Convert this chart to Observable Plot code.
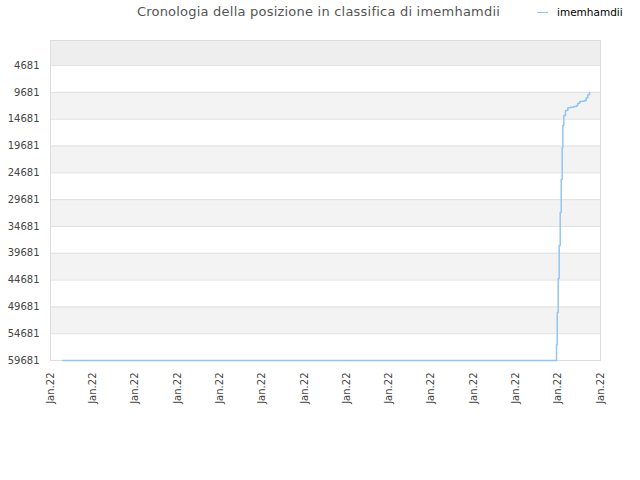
<!DOCTYPE html>
<html>
<head>
<meta charset="utf-8">
<script src="https://cdn.jsdelivr.net/npm/d3@7"></script>
<script src="https://cdn.jsdelivr.net/npm/@observablehq/plot@0.6"></script>
<style>
  html, body { margin: 0; padding: 0; background: #fff; }
  #wrap { position: relative; width: 640px; height: 480px; overflow: hidden; font-family: "DejaVu Sans", sans-serif; }
  #header { position: relative; height: 30px; }
  #title { position: absolute; left: 0; width: 637px; top: 4px; text-align: center; font-size: 13px; letter-spacing: 0.22px; color: #555; white-space: nowrap; }
  #legend { position: absolute; left: 537px; top: 6px; font-size: 10.5px; color: #000; white-space: nowrap; display: flex; align-items: center; }
  #legend .sw { display: inline-block; width: 11px; height: 0; border-top: 1.5px solid #92c5f5; margin-right: 9px; }
  #chart svg { display: block; }
</style>
</head>
<body>
<div id="wrap">
  <div id="header">
    <div id="title"></div>
    <div id="legend"><span class="sw"></span><span id="legendText"></span></div>
  </div>
  <div id="chart"></div>
</div>
<script>
const titleText = "Cronologia della posizione in classifica di imemhamdii";
const seriesName = "imemhamdii";

// x: timestamps (UTC), y: rank position
const times = [
  "2022-01-01T14:00Z", "2022-01-24T22:06Z", "2022-01-24T22:54Z", "2022-01-25T00:00Z",
  "2022-01-25T01:08Z", "2022-01-25T02:17Z", "2022-01-25T03:25Z", "2022-01-25T04:33Z",
  "2022-01-25T05:14Z", "2022-01-25T06:22Z", "2022-01-25T08:18Z", "2022-01-25T10:55Z",
  "2022-01-25T14:00Z", "2022-01-25T17:44Z", "2022-01-25T20:48Z", "2022-01-25T22:17Z",
  "2022-01-26T00:32Z", "2022-01-26T03:14Z", "2022-01-26T05:52Z", "2022-01-26T07:48Z",
  "2022-01-26T09:36Z", "2022-01-26T11:32Z"
];
const ranks = [
  59681, 56697, 50729, 44388,
  38233, 32079, 25924, 19956,
  15853, 13988, 13055, 12552,
  12440, 12309, 12123, 11694,
  11377, 11321, 11190, 10687,
  10127, 9681
];

const yTicks = [4681, 9681, 14681, 19681, 24681, 29681, 34681, 39681, 44681, 49681, 54681, 59681];
const xTickLabel = "Jan.22";
const xStart = "2022-01-01T00:00Z";
const xEnd = "2022-01-27T00:00Z";

document.getElementById("title").textContent = titleText;
document.getElementById("legendText").textContent = seriesName;

const data = times.map((t, i) => ({ date: new Date(t), rank: ranks[i] }));
const x0 = new Date(xStart), x1 = new Date(xEnd);
const xTicks = d3.utcDay.every(2).range(x0, new Date(+x1 + 1));

// alternating background bands between tick lines
const bounds = [0, ...yTicks];
const bands = [];
for (let i = 0; i < bounds.length - 1; i++) {
  if (i === 0) bands.push({ y1: bounds[i], y2: bounds[i + 1], fill: "#eeeeee" });
  else if (i % 2 === 0) bands.push({ y1: bounds[i], y2: bounds[i + 1], fill: "#f3f3f3" });
}

const plot = Plot.plot({
  width: 640,
  height: 450,
  marginTop: 10,
  marginBottom: 120,
  marginLeft: 50,
  marginRight: 40,
  style: { fontFamily: "DejaVu Sans, sans-serif", fontSize: "10px", color: "#444", background: "#fff" },
  x: { type: "utc", domain: [x0, x1], ticks: xTicks, tickFormat: () => xTickLabel, tickRotate: -90, tickSize: 0, tickPadding: 12, label: null },
  y: { domain: [0, 59681], reverse: true, ticks: yTicks, tickFormat: d => String(d), tickSize: 0, tickPadding: 11, label: null },
  marks: [
    Plot.rect(bands, { x1: () => x0, x2: () => x1, y1: "y1", y2: "y2", fill: "fill" }),
    Plot.ruleY(yTicks, { stroke: "#e0e0e0", strokeWidth: 1 }),
    Plot.frame({ stroke: "#dddddd" }),
    Plot.axisX({ ticks: xTicks, tickFormat: () => xTickLabel, tickRotate: -90, tickSize: 0, tickPadding: 12, textAnchor: "end", fill: "#444" }),
    Plot.axisY({ ticks: yTicks, tickFormat: d => String(d), tickSize: 0, tickPadding: 11, fill: "#444" }),
    Plot.line(data, { x: "date", y: "rank", curve: "step-after", stroke: "#92c5f5", strokeWidth: 1.5 })
  ]
});
document.getElementById("chart").appendChild(plot);
</script>
</body>
</html>
